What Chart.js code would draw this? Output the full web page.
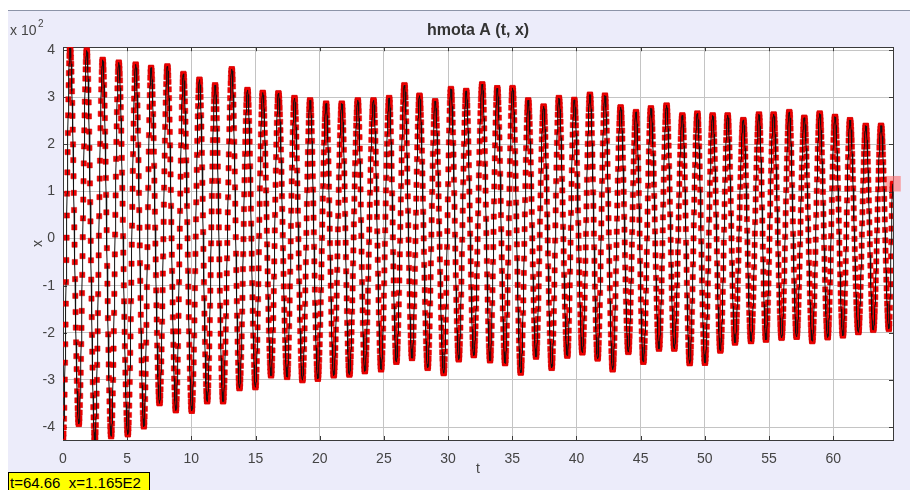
<!DOCTYPE html>
<html>
<head>
<meta charset="utf-8">
<script src="https://cdn.jsdelivr.net/npm/chart.js@4"></script>
<style>
  html, body { margin: 0; padding: 0; background: #fff; }
  #wrap { position: relative; width: 910px; height: 490px; overflow: hidden; }
  #panel { position: absolute; left: 8px; top: 10px; width: 902px; height: 480px;
           background: #ececfa; border-top: 1px solid #8c94a8; }
  #Chart { position: absolute; left: 0; top: 0; }
  #readout { position: absolute; left: 8px; top: 472px; width: 142px; height: 20px;
             background: #ffff00; border: 1px solid #000; box-sizing: border-box;
             font: 15px "Liberation Sans", Arial, sans-serif; line-height: 19px;
             padding-left: 1px; color: #000; white-space: nowrap; }
</style>
</head>
<body>
<div id="wrap">
  <div id="panel"></div>
  <canvas id="Chart" width="910" height="490"></canvas>
  <div id="readout">t=64.66&nbsp;&nbsp;x=1.165E2</div>
</div>
<script>
const troughT = [0, 1.23, 2.48, 3.75, 5.05, 6.30, 7.52, 8.79, 10.03, 11.23, 12.47, 13.75, 14.99, 16.21,
    17.46, 18.65, 19.85, 21.09, 22.31, 23.51, 24.78, 25.97, 27.19, 28.41, 29.66, 30.83, 32.0, 33.27,
    34.44, 35.66, 36.85, 38.07, 39.29, 40.46, 41.65, 42.82, 44.04, 45.21, 46.43, 47.62, 48.82, 50.01,
    51.21, 52.35, 53.6, 54.76, 55.98, 57.15, 58.37, 59.57, 60.76, 61.96, 63.12, 64.34];
const troughX = [-425, -394, -430, -420, -416, -399, -350, -365, -366, -346, -346, -318, -316, -291,
    -294, -301, -298, -291, -289, -282, -278, -262, -254, -275, -286, -257, -248, -259,
    -265, -285, -251, -275, -249, -242, -255, -278, -241, -262, -234, -234, -265, -264,
    -238, -221, -218, -215, -211, -209, -218, -210, -206, -199, -194, -192];
const peakT = [0.55, 1.85, 3.09, 4.34, 5.66, 6.86, 8.13, 9.38, 10.63, 11.85, 13.15, 14.37, 15.56,
    16.78, 18.03, 19.25, 20.5, 21.72, 22.97, 24.19, 25.41, 26.6, 27.77, 28.99, 30.22, 31.41, 32.66,
    33.83, 35.02, 36.24, 37.44, 38.63, 39.83, 41.05, 42.22, 43.44, 44.64, 45.8, 47.02, 48.25, 49.42,
    50.61, 51.78, 53.0, 54.22, 55.36, 56.58, 57.75, 58.95, 60.14, 61.31, 62.54, 63.73];
const peakX = [405, 400, 380, 374, 370, 363, 366, 350, 338, 326, 360, 316, 310, 309, 299, 294, 287,
    287, 294, 294, 299, 326, 304, 292, 318, 314, 328, 320, 320, 294, 281, 299, 295, 306, 304, 279,
    269, 277, 283, 262, 266, 262, 262, 252, 264, 264, 269, 257, 266, 259, 252, 240, 240];
const lastT = 64.66;
const lastX = 116.5;
const sampleStep = 0.02;

const xTicksStep = 5;
const yTicksStep = 100;

// ordered list of turning points, then sampled at the solver step
let turns = [];
for (let i = 0; i < troughT.length; i++) {
    turns.push([troughT[i], troughX[i]]);
    if (i < peakT.length) turns.push([peakT[i], peakX[i]]);
}
turns.push([lastT, lastX]);

let samples = [];
let seg = 0;
let n = Math.round(lastT / sampleStep);
for (let k = 0; k <= n; k++) {
    let t = +(k * sampleStep).toFixed(2);
    while (seg < turns.length - 2 && t > turns[seg + 1][0]) seg++;
    let t0 = turns[seg][0], x0 = turns[seg][1];
    let t1 = turns[seg + 1][0], x1 = turns[seg + 1][1];
    let f = Math.min(1, Math.max(0, (t - t0) / (t1 - t0)));
    samples.push({ x: t, y: x0 + (x1 - x0) * (1 - Math.cos(Math.PI * f)) / 2 });
}

const frame = {
    id: 'frame',
    beforeDraw(chart) {
        let a = chart.chartArea, ctx = chart.ctx;
        ctx.save();
        ctx.fillStyle = '#ffffff';
        ctx.fillRect(a.left, a.top, a.right - a.left, a.bottom - a.top);
        ctx.restore();
    },
    beforeDatasetsDraw(chart) {
        let a = chart.chartArea, ctx = chart.ctx;
        ctx.save();
        ctx.strokeStyle = '#3a3a3a';
        ctx.lineWidth = 1;
        ctx.strokeRect(Math.round(a.left) + 0.5, Math.round(a.top) + 0.5,
            Math.round(a.right - a.left), Math.round(a.bottom - a.top));
        ctx.beginPath();
        chart.scales.x.ticks.forEach(tk => {
            let px = Math.round(chart.scales.x.getPixelForValue(tk.value)) + 0.5;
            ctx.moveTo(px, a.bottom); ctx.lineTo(px, a.bottom - 4);
            ctx.moveTo(px, a.top); ctx.lineTo(px, a.top + 4);
        });
        chart.scales.y.ticks.forEach(tk => {
            let py = Math.round(chart.scales.y.getPixelForValue(tk.value)) + 0.5;
            ctx.moveTo(a.left, py); ctx.lineTo(a.left + 4, py);
            ctx.moveTo(a.right, py); ctx.lineTo(a.right - 4, py);
        });
        ctx.stroke();
        ctx.restore();
    },
    afterDraw(chart) {
        let ctx = chart.ctx;
        ctx.save();
        ctx.fillStyle = '#444';
        ctx.textBaseline = 'alphabetic';
        ctx.font = '14px "Liberation Sans", Arial, sans-serif';
        ctx.fillText('x 10', 10, 35);
        ctx.font = '10px "Liberation Sans", Arial, sans-serif';
        ctx.fillText('2', 38, 27);
        ctx.restore();
    }
};

function main() {
    let ctx = document.getElementById('Chart');
    new Chart(ctx, {
        type: 'line',
        data: {
            datasets: [{
                label: 'line',
                data: samples,
                borderColor: '#111111',
                borderWidth: 1,
                pointRadius: 0,
                tension: 0
            }, {
                label: 'points',
                data: samples,
                showLine: false,
                pointStyle: 'rect',
                pointRadius: 3.7,
                pointBackgroundColor: '#f20000',
                pointBorderColor: '#d40000',
                pointBorderWidth: 0.5
            }, {
                label: 'cursor',
                data: [{ x: lastT, y: lastX }],
                showLine: false,
                pointStyle: 'rect',
                pointRadius: 11,
                pointBackgroundColor: 'rgba(255, 110, 110, 0.6)',
                pointBorderWidth: 0,
                clip: false
            }]
        },
        plugins: [frame],
        options: {
            responsive: false,
            animation: false,
            events: [],
            parsing: false,
            normalized: true,
            layout: { padding: { left: 0, right: 17, top: 0, bottom: 0 } },
            plugins: {
                legend: { display: false },
                tooltip: { enabled: false },
                title: {
                    display: true,
                    fullSize: false,
                    text: 'hmota A (t, x)',
                    color: '#333',
                    font: { family: '"Liberation Sans", Arial, sans-serif', size: 16, weight: 'bold' },
                    padding: { top: 21, bottom: 7 }
                }
            },
            scales: {
                x: {
                    type: 'linear',
                    min: 0,
                    max: lastT,
                    afterFit: s => { s.height = 50; },
                    grid: { color: '#c4c4c4', drawTicks: false },
                    border: { display: false },
                    ticks: {
                        stepSize: xTicksStep,
                        includeBounds: false,
                        padding: 11,
                        color: '#444',
                        font: { family: '"Liberation Sans", Arial, sans-serif', size: 14 }
                    },
                    title: {
                        display: true,
                        text: 't',
                        color: '#444',
                        font: { family: '"Liberation Sans", Arial, sans-serif', size: 14 },
                        padding: { top: 0, bottom: 12 }
                    }
                },
                y: {
                    min: -427.6,
                    max: 406.4,
                    afterFit: s => { s.width = 63; },
                    grid: { color: '#c4c4c4', drawTicks: false },
                    border: { display: false },
                    ticks: {
                        stepSize: yTicksStep,
                        includeBounds: false,
                        padding: 8,
                        color: '#444',
                        font: { family: '"Liberation Sans", Arial, sans-serif', size: 14 },
                        callback: v => v / 100
                    },
                    title: {
                        display: true,
                        text: 'x',
                        color: '#444',
                        font: { family: '"Liberation Sans", Arial, sans-serif', size: 14 },
                        padding: { top: 30, bottom: 0 }
                    }
                }
            }
        }
    });
}
main();
</script>
</body>
</html>
